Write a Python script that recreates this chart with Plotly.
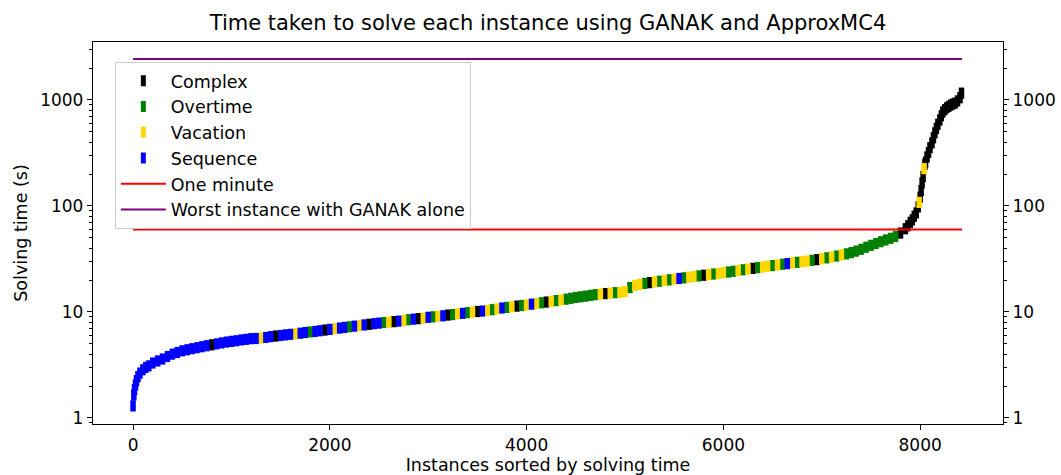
import plotly.graph_objects as go

# ---------------- data ----------------
# instance rank (sorted by solving time) and solving time in seconds
head_rank = [0, 8, 15, 25, 35, 50, 70, 100, 130, 160]
head_time = [1.3, 1.65, 1.85, 2.05, 2.25, 2.45, 2.65, 2.85, 3.0, 3.1]
head_cat = "SSSSSSSSSS"

mid_rank = list(range(200, 7851, 50))  # ranks sampled every 50 instances
mid_time = [
    # 200 .. 1250
    3.3, 3.45, 3.6, 3.8, 4.0, 4.15, 4.3, 4.4, 4.5, 4.6, 4.7, 4.8, 4.9, 5.0, 5.1, 5.2,
    5.28, 5.35, 5.45, 5.52, 5.6, 5.62,
    # 1300 .. 2450
    5.68, 5.75, 5.85, 5.93, 6.0, 6.08, 6.15, 6.22, 6.3, 6.4, 6.48, 6.55, 6.65, 6.75,
    6.85, 6.95, 7.05, 7.15, 7.25, 7.35, 7.45, 7.55, 7.65, 7.75,
    # 2500 .. 3650
    7.85, 7.95, 8.0, 8.1, 8.2, 8.3, 8.45, 8.55, 8.65, 8.75, 8.9, 9.0, 9.1, 9.2,
    9.35, 9.45, 9.6, 9.7, 9.85, 9.95, 10.1, 10.2, 10.35, 10.5,
    # 3700 .. 4950
    10.7, 10.9, 11.05, 11.2, 11.35, 11.5, 11.65, 11.85, 12.0, 12.2, 12.4, 12.6, 12.8,
    13.0, 13.2, 13.45, 13.7, 13.9, 14.1, 14.35, 14.55, 14.75, 14.9, 15.05, 15.2, 15.3,
    # 5000 .. 7250
    15.6, 17.0, 17.8, 18.2, 18.6, 18.9, 19.2, 19.5, 19.8, 20.1,
    20.4, 20.7, 21.0, 21.3, 21.6, 21.9, 22.2, 22.5, 22.8, 23.1,
    23.5, 23.8, 24.2, 24.6, 25.0, 25.4, 25.8, 26.2, 26.6, 27.0,
    27.4, 27.8, 28.2, 28.6, 29.0, 29.4, 29.8, 30.2, 30.7, 31.2,
    31.8, 32.4, 33.0, 33.7, 34.5, 35.3,
    # 7300 .. 7850
    36.3, 37.5, 39.0, 40.8, 42.5, 44.2, 46.0, 47.8, 49.5, 51.5, 55.5, 61,
]
mid_cat = (
    "SSSSSSSSSSSSCSSSSSSSSS"
    + "VSSCSSSVSSOSSCSVSSOSVSCS"
    + "SOVCSVOSCVSOVSCOVSOVCSVO"
    + "VSOVCOVSVOCVOVOOOOOOOVCVOV"
    + "VOVVOCVOVO" + "VSOVVOCVOV" + "VOOVOVCOVV" + "OVOSVOVVOC" + "VOVOVO"
    + "OOOOOOOOOOCC"
)

tail_rank = [7875, 7900, 7920, 7940, 7960, 7980, 7990, 8000, 8010, 8020, 8030, 8040,
             8048, 8055, 8070, 8085, 8100, 8120, 8135, 8150, 8165, 8180, 8200, 8215,
             8230, 8250, 8270, 8290, 8310, 8330, 8355, 8380, 8405, 8420]
tail_time = [65, 70, 74, 80, 86, 98, 108, 121, 140, 165, 190, 225,
             246, 260, 290, 320, 355, 394, 440, 490, 540, 590, 648, 710,
             770, 810, 845, 870, 895, 915, 935, 980, 1050, 1160]
tail_cat = "CCCCCCVCCCCV" + "CCCCCCCCCCCC" + "CCCCCCCCCC"

categories = ["Complex", "Overtime", "Vacation", "Sequence"]
category_codes = {"Complex": "C", "Overtime": "O", "Vacation": "V", "Sequence": "S"}
category_colors = {"Complex": "black", "Overtime": "green", "Vacation": "gold", "Sequence": "blue"}

one_minute = 60
worst_ganak = 2440
n_instances = 8425

# ---------------- figure ----------------
ranks = head_rank + mid_rank + tail_rank
times = head_time + mid_time + tail_time
cats = head_cat + mid_cat + tail_cat

fig = go.Figure()
for name in categories:
    code = category_codes[name]
    xs = [r for r, c in zip(ranks, cats) if c == code]
    ys = [t for t, c in zip(times, cats) if c == code]
    fig.add_trace(go.Scatter(
        x=xs, y=ys, mode="markers", name=name, legendgroup=name,
        marker=dict(symbol="line-ns", size=8,
                    line=dict(width=5.5, color=category_colors[name])),
    ))

fig.add_trace(go.Scatter(x=[0, n_instances], y=[one_minute, one_minute], mode="lines",
                         name="One minute", legendgroup="one",
                         line=dict(color="red", width=2)))
fig.add_trace(go.Scatter(x=[0, n_instances], y=[worst_ganak, worst_ganak], mode="lines",
                         name="Worst instance with GANAK alone", legendgroup="worst",
                         line=dict(color="purple", width=2)))
# invisible trace to carry the right-hand axis
fig.add_trace(go.Scatter(x=[0], y=[1], yaxis="y2", mode="markers", showlegend=False,
                         marker=dict(opacity=0), hoverinfo="skip"))

major = [1, 10, 100, 1000]
minor = [m * 10 ** k for k in range(-1, 4) for m in range(2, 10)]
yrange = [-0.057, 3.547]

yaxis_common = dict(
    type="log", range=yrange, tickvals=major, ticktext=["1", "10", "100", "1000"],
    ticks="outside", ticklen=5, tickwidth=1, tickcolor="black",
    showline=True, linecolor="black", linewidth=1.3, showgrid=False, zeroline=False,
    minor=dict(tickvals=minor, ticks="outside", ticklen=3, tickwidth=0.8,
               tickcolor="black", showgrid=False),
    tickfont=dict(size=17, color="black"), automargin=False,
)

fig.update_layout(
    width=1061, height=475,
    margin=dict(l=93, r=58, t=42, b=51, autoexpand=False),
    paper_bgcolor="white", plot_bgcolor="white",
    font=dict(family="DejaVu Sans", color="black"),
    title=dict(text="Time taken to solve each instance using GANAK and ApproxMC4",
               x=0.5, xref="paper", xanchor="center", y=0.9516, yref="container",
               yanchor="middle",
               font=dict(size=21, color="black")),
    xaxis=dict(range=[-407, 8842], tickvals=[0, 2000, 4000, 6000, 8000],
               ticks="outside", ticklen=5, tickcolor="black", showline=True,
               linecolor="black", linewidth=1.3, mirror=True, showgrid=False,
               zeroline=False, tickfont=dict(size=17, color="black"), automargin=False,
               title=dict(text="Instances sorted by solving time", standoff=4,
                          font=dict(size=17.5, color="black"))),
    yaxis=dict(**yaxis_common,
               title=dict(text="Solving time (s)", standoff=8,
                          font=dict(size=17.5, color="black"))),
    yaxis2=dict(**yaxis_common, overlaying="y", side="right"),
    legend=dict(x=0.024, y=0.948, xanchor="left", yanchor="top",
                bgcolor="white", bordercolor="#cccccc", borderwidth=1,
                font=dict(size=17.5, color="black"), tracegroupgap=0,
                itemwidth=45),
    showlegend=True,
)

fig.write_html("out.html",
               config={"displayModeBar": False},
               post_script="document.body.style.margin='0';"
                           "document.body.style.overflow='hidden';")
